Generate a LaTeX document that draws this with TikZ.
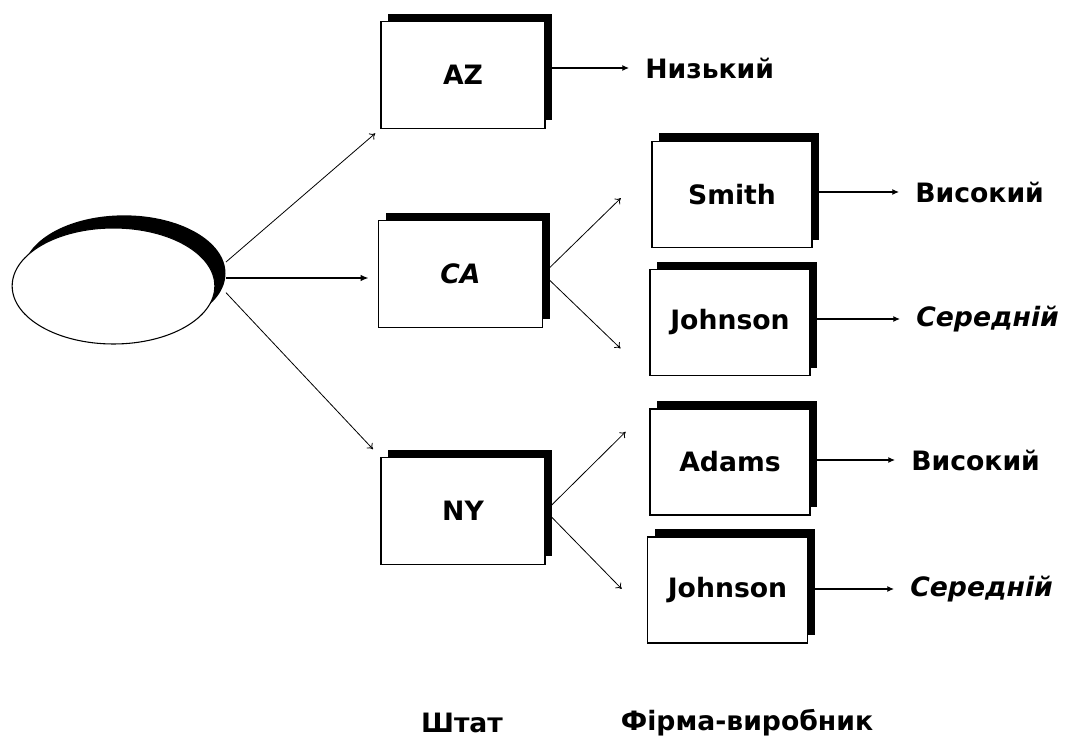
\documentclass[tikz,border=0pt]{standalone}
\usepackage{fontspec}
\setmainfont{DejaVu Sans}
\usetikzlibrary{shapes.geometric, shadows, arrows.meta}

\tikzset{
    boxshadow/.style={general shadow={fill=black, shadow xshift=5.25pt, shadow yshift=6pt}},
    statebox/.style={draw, line width=1pt, fill=white, minimum width=123pt, minimum height=80pt,
        boxshadow, font=\bfseries\fontsize{20pt}{24pt}\selectfont},
    firmbox/.style={statebox, minimum width=120pt, minimum height=79.5pt},
    level/.style={anchor=west, inner sep=0pt, font=\bfseries\fontsize{20pt}{24pt}\selectfont},
    caption/.style={inner sep=0pt, font=\bfseries\fontsize{20pt}{24pt}\selectfont},
    lvarrow/.style={-{Latex[length=5pt, width=4.5pt]}, line width=0.9pt, shorten >=12pt},
    branch/.style={-{To[length=4pt, width=6pt]}, line width=0.6pt},
}

\begin{document}
\begin{tikzpicture}[x=0.75pt, y=-0.75pt]
    \useasboundingbox (0, 0) rectangle (1078, 738);

    % root
    \node [ellipse, draw, line width=0.8pt, fill=white, minimum width=152pt, minimum height=87pt,
        general shadow={fill=black, shadow xshift=8pt, shadow yshift=9.5pt}] (root) at (113.5, 286) {};
    \coordinate (hub) at ([shift={(112.5, -8)}]root.center);

    % states
    \node [statebox] (AZ) at (463, 75) {AZ};
    \node [statebox] (CA) at (460.5, 274) {\itshape CA};
    \node [statebox] (NY) at (463, 511) {NY};

    % firms
    \node [firmbox] (Smith) at (732, 194.5) {Smith};
    \node [firmbox] (JohnsonCA) at (730, 322.5) {Johnson};
    \node [firmbox] (Adams) at (730, 462) {Adams};
    \node [firmbox] (JohnsonNY) at (727.5, 590) {Johnson};

    % levels
    \node [level] (lvAZ) at (645, 68) {Низький};
    \node [level] (lvSmith) at (915, 192) {Високий};
    \node [level] (lvJohnsonCA) at (916, 319) {\itshape Середній};
    \node [level] (lvAdams) at (911, 460) {Високий};
    \node [level] (lvJohnsonNY) at (910, 589) {\itshape Середній};

    \node [caption] (state) at (462, 723) {Штат};
    \node [caption] (firm) at (747, 723) {Фірма-виробник};

    % root -> states
    \draw [branch, shorten >=5pt] ([yshift=12pt]hub) -- (AZ.south west);
    \draw [-{Latex[length=6pt, width=5pt]}, line width=1pt, shorten >=7pt] (hub) -- (hub -| CA.west);
    \draw [branch, shorten >=8pt] ([yshift=-11pt]hub) -- (NY.north west);

    % states -> firms
    \draw [branch, shorten >=32pt] (CA.east) -- (Smith.162);
    \draw [branch, shorten >=30pt] (CA.east) -- (JohnsonCA.south west);
    \draw [branch, shorten >=25pt] (NY.east) -- (Adams.north west);
    \draw [branch, shorten >=27pt] (NY.east) -- (JohnsonNY.197);

    % firms -> levels
    \foreach \firm/\lv in {AZ/lvAZ, Smith/lvSmith, JohnsonCA/lvJohnsonCA, Adams/lvAdams, JohnsonNY/lvJohnsonNY} {%
            \draw [lvarrow] (\firm.east |- \lv.west) -- (\lv.west);
        }
\end{tikzpicture}
\end{document}
